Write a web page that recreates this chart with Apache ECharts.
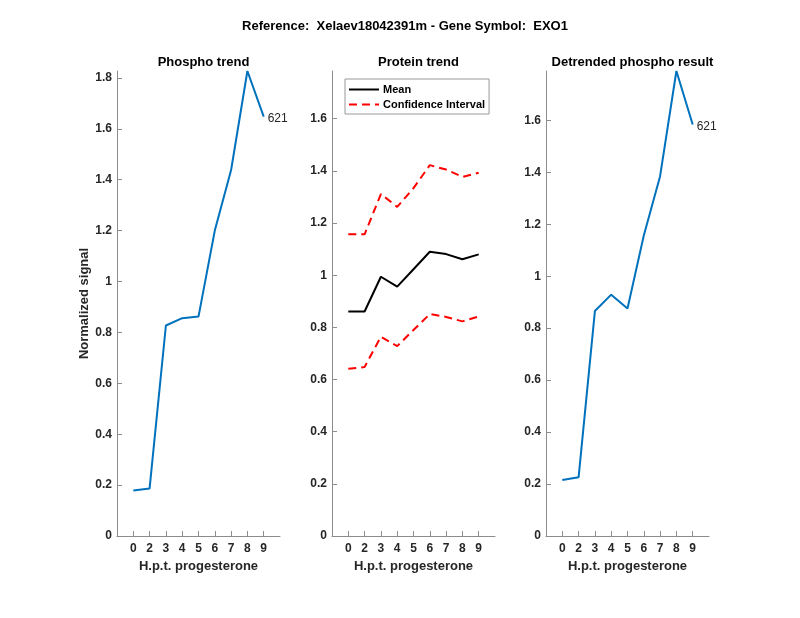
<!DOCTYPE html>
<html>
<head>
<meta charset="utf-8">
<script src="https://cdn.jsdelivr.net/npm/echarts@6/dist/echarts.min.js"></script>
<style>html,body{margin:0;padding:0;background:#fff;}#c{width:800px;height:618px;}</style>
</head>
<body>
<div id="c"></div>
<script>
// ---- data ----
const timeLabels = ['0','2','3','4','5','6','7','8','9'];
const phospho = [0.179, 0.187, 0.827, 0.856, 0.862, 1.200, 1.438, 1.827, 1.648];
const proteinMean = [0.861, 0.861, 0.994, 0.956, 1.023, 1.090, 1.081, 1.061, 1.080];
const proteinUpper = [1.157, 1.157, 1.311, 1.262, 1.334, 1.422, 1.405, 1.377, 1.393];
const proteinLower = [0.641, 0.648, 0.764, 0.728, 0.790, 0.851, 0.840, 0.823, 0.842];
const detrended = [0.216, 0.226, 0.866, 0.929, 0.876, 1.157, 1.385, 1.790, 1.584];
const yTicks1 = [0, 0.2, 0.4, 0.6, 0.8, 1, 1.2, 1.4, 1.6, 1.8];
const yTicks2 = [0, 0.2, 0.4, 0.6, 0.8, 1, 1.2, 1.4, 1.6];
const yTicks3 = [0, 0.2, 0.4, 0.6, 0.8, 1, 1.2, 1.4, 1.6];
const yMax = [1.827, 1.783, 1.79];
const peptideId = '621';

const FONT = '"Liberation Sans", Arial, Helvetica, sans-serif';
const TXT = '#262626';
const AX = '#8c8c8c';
const pos = timeLabels.map((_, i) => i + 1);
const xy = arr => arr.map((v, i) => [pos[i], v]);

const gridDefs = [
  {left: 117, top: 71, width: 163, height: 465},
  {left: 332, top: 71, width: 163, height: 465},
  {left: 546, top: 71, width: 163, height: 465}
];
const yTicksAll = [yTicks1, yTicks2, yTicks3];

const xAxes = gridDefs.map((g, i) => ({
  type: 'value', gridIndex: i, min: 0, max: 10, interval: 1,
  name: 'H.p.t. progesterone', nameLocation: 'middle', nameGap: 22,
  nameTextStyle: {fontFamily: FONT, fontWeight: 'bold', fontSize: 13, color: TXT},
  axisLine: {show: true, lineStyle: {color: AX, width: 1}},
  axisTick: {show: true, inside: true, length: 5, lineStyle: {color: AX}, customValues: pos},
  axisLabel: {show: true, margin: 7, fontFamily: FONT, fontWeight: 'bold', fontSize: 12, color: TXT,
    customValues: pos, formatter: v => timeLabels[Math.round(v) - 1] || ''},
  splitLine: {show: false}
}));

const yAxes = gridDefs.map((g, i) => ({
  type: 'value', gridIndex: i, min: 0, max: yMax[i], interval: 0.2,
  name: i === 0 ? 'Normalized signal' : '', nameLocation: 'middle', nameGap: 21, nameRotate: 90,
  nameTextStyle: {fontFamily: FONT, fontWeight: 'bold', fontSize: 13, color: TXT},
  axisLine: {show: true, lineStyle: {color: AX, width: 1}},
  axisTick: {show: true, inside: true, length: 5, lineStyle: {color: AX}, customValues: yTicksAll[i]},
  axisLabel: {show: true, margin: 5, fontFamily: FONT, fontWeight: 'bold', fontSize: 12, color: TXT,
    customValues: yTicksAll[i], formatter: v => String(Math.round(v * 10) / 10)},
  splitLine: {show: false}
}));

const subTitles = ['Phospho trend', 'Protein trend', 'Detrended phospho result'];
const titles = [{
  text: 'Reference:  Xelaev18042391m - Gene Symbol:  EXO1',
  left: 400, top: 15, textAlign: 'center',
  textStyle: {fontFamily: FONT, fontWeight: 'bold', fontSize: 13, color: '#000'}
}].concat(gridDefs.map((g, i) => ({
  text: subTitles[i], left: g.left + g.width / 2, top: 51, textAlign: 'center',
  textStyle: {fontFamily: FONT, fontWeight: 'bold', fontSize: 13, color: '#000'}
})));

const endLbl = {
  show: true, formatter: peptideId, distance: 4, offset: [0, 2],
  fontFamily: FONT, fontSize: 12, color: TXT
};

const option = {
  animation: false,
  backgroundColor: '#fff',
  title: titles,
  grid: gridDefs.map(g => Object.assign({containLabel: false}, g)),
  xAxis: xAxes,
  yAxis: yAxes,
  legend: {
    data: ['Mean', 'Confidence Interval'],
    orient: 'vertical', left: 345, top: 79,
    itemWidth: 30, itemHeight: 10, itemGap: 4,
    padding: [5, 4, 4, 3],
    borderColor: '#999', borderWidth: 1, backgroundColor: '#fff',
    itemStyle: {opacity: 0},
    textStyle: {fontFamily: FONT, fontWeight: 'bold', fontSize: 11, color: '#000', padding: [0, 0, 0, -1]}
  },
  series: [
    {type: 'line', name: 'Phospho', xAxisIndex: 0, yAxisIndex: 0, data: xy(phospho),
     symbol: 'none', lineStyle: {color: '#0072BD', width: 2}, itemStyle: {color: '#0072BD'},
     endLabel: endLbl},
    {type: 'line', name: 'Mean', xAxisIndex: 1, yAxisIndex: 1, data: xy(proteinMean),
     symbol: 'none', lineStyle: {color: '#000', width: 2}, itemStyle: {color: '#000'}},
    {type: 'line', name: 'Confidence Interval', xAxisIndex: 1, yAxisIndex: 1, data: xy(proteinUpper),
     symbol: 'none', lineStyle: {color: '#ff0000', width: 2, type: [8, 5]}, itemStyle: {color: '#ff0000'}},
    {type: 'line', name: 'Confidence Interval', xAxisIndex: 1, yAxisIndex: 1, data: xy(proteinLower),
     symbol: 'none', lineStyle: {color: '#ff0000', width: 2, type: [8, 5]}, itemStyle: {color: '#ff0000'}},
    {type: 'line', name: 'Detrended', xAxisIndex: 2, yAxisIndex: 2, data: xy(detrended),
     symbol: 'none', lineStyle: {color: '#0072BD', width: 2}, itemStyle: {color: '#0072BD'},
     endLabel: endLbl}
  ]
};

const chart = echarts.init(document.getElementById('c'), null, {renderer: 'canvas'});
chart.setOption(option);
</script>
</body>
</html>
